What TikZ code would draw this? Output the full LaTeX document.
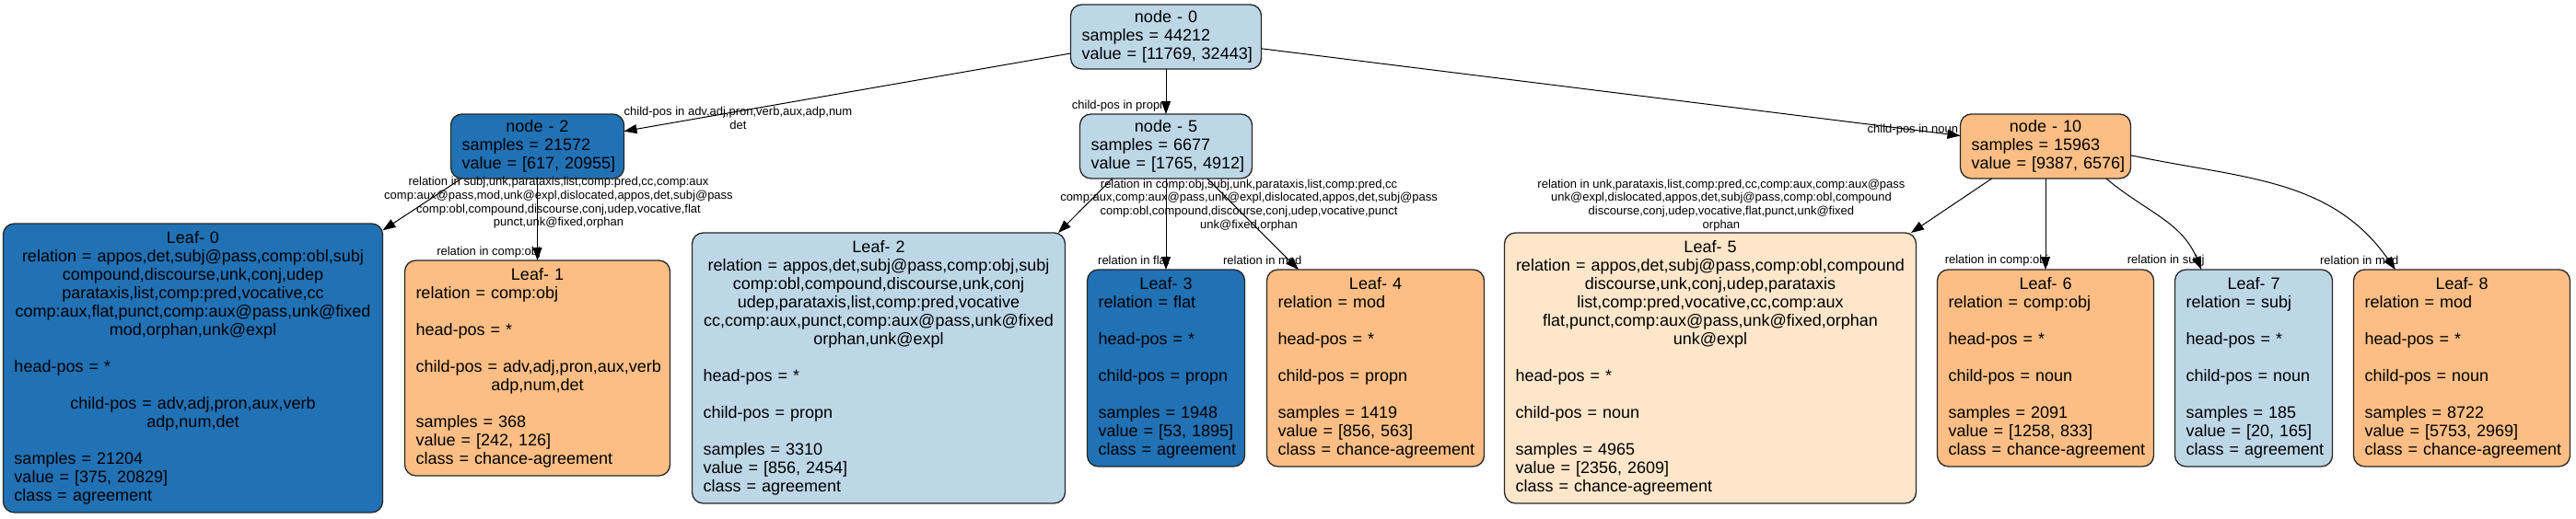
\documentclass[tikz,border=0pt]{standalone}
\usepackage{fontspec}
\setmainfont{Liberation Sans}
\usepackage{tikz}
\usetikzlibrary{arrows.meta,positioning}
\definecolor{agree}{HTML}{2171B5}
\definecolor{agreelight}{HTML}{BDD7E7}
\definecolor{chance}{HTML}{FDBE85}
\definecolor{chancelight}{HTML}{FEE6CA}
\tikzstyle{splitbox} = [rectangle, draw=black!85, line width=0.65pt, rounded corners=6pt, align=center, inner xsep=6pt, inner ysep=3pt, outer sep=0pt, minimum height=35pt, font=\fontsize{9}{10}\selectfont]
\tikzstyle{leafbox} = [rectangle, draw=black!85, line width=0.65pt, rounded corners=6pt, align=center, inner xsep=6pt, inner ysep=4.3pt, outer sep=0pt, font=\fontsize{9}{10}\selectfont]
\tikzstyle{line} = [draw, line width=0.5pt, -{Triangle[length=7pt,width=5pt]}]
\tikzstyle{cond} = [inner sep=0pt, align=center, font=\fontsize{6.5}{7.4}\selectfont]
\newcommand{\lft}[1]{\makebox[\linewidth][l]{#1}}

\begin{document}
\begin{tikzpicture}
    \useasboundingbox (0,0) rectangle (1398.5pt,-281.5pt);
    % split nodes
    \node [splitbox, fill=agreelight, text width=91.5pt] (node0) at (633pt,-20pt) {node - 0\\ \lft{samples = 44212}\\ \lft{value = [11769, 32443]}};
    \node [splitbox, fill=agreelight, text width=81.5pt, below=24.5pt of node0] (node5) {node - 5\\ \lft{samples = 6677}\\ \lft{value = [1765, 4912]}};
    \node [splitbox, fill=agree, text width=82pt, left=247.5pt of node5] (node2) {node - 2\\ \lft{samples = 21572}\\ \lft{value = [617, 20955]}};
    \node [splitbox, fill=chance, text width=80.5pt, right=384.5pt of node5] (node10) {node - 10\\ \lft{samples = 15963}\\ \lft{value = [9387, 6576]}};
    % leaves
    \node [leafbox, fill=agree, text width=73.5pt, below=49.5pt of node5] (leaf3) {Leaf- 3\\ \lft{relation = flat}\\[10pt] \lft{head-pos = *}\\[10pt] \lft{child-pos = propn}\\[10pt] \lft{samples = 1948}\\ \lft{value = [53, 1895]}\\ \lft{class = agreement}};
    \node [leafbox, fill=agreelight, text width=190.5pt, left=12pt of leaf3] (leaf2) {Leaf- 2\\ \mbox{relation = appos,det,subj@pass,comp:obj,subj}\\ comp:obl,compound,discourse,unk,conj\\ udep,parataxis,list,comp:pred,vocative\\ cc,comp:aux,punct,comp:aux@pass,unk@fixed\\ orphan,unk@expl\\[10pt] \lft{head-pos = *}\\[10pt] \lft{child-pos = propn}\\[10pt] \lft{samples = 3310}\\ \lft{value = [856, 2454]}\\ \lft{class = agreement}};
    \node [leafbox, fill=chance, text width=132pt, left=12pt of leaf2] (leaf1) {Leaf- 1\\ \lft{relation = comp:obj}\\[10pt] \lft{head-pos = *}\\[10pt] \lft{child-pos = adv,adj,pron,aux,verb}\\ adp,num,det\\[10pt] \lft{samples = 368}\\ \lft{value = [242, 126]}\\ \lft{class = chance-agreement}};
    \node [leafbox, fill=agree, text width=194pt, left=12pt of leaf1] (leaf0) {Leaf- 0\\ \mbox{relation = appos,det,subj@pass,comp:obl,subj}\\ compound,discourse,unk,conj,udep\\ parataxis,list,comp:pred,vocative,cc\\ comp:aux,flat,punct,comp:aux@pass,unk@fixed\\ mod,orphan,unk@expl\\[10pt] \lft{head-pos = *}\\[10pt] \mbox{child-pos = adv,adj,pron,aux,verb}\\ adp,num,det\\[10pt] \lft{samples = 21204}\\ \lft{value = [375, 20829]}\\ \lft{class = agreement}};
    \node [leafbox, fill=chance, text width=106pt, right=12pt of leaf3] (leaf4) {Leaf- 4\\ \lft{relation = mod}\\[10pt] \lft{head-pos = *}\\[10pt] \lft{child-pos = propn}\\[10pt] \lft{samples = 1419}\\ \lft{value = [856, 563]}\\ \lft{class = chance-agreement}};
    \node [leafbox, fill=chancelight, text width=211.5pt, right=11pt of leaf4] (leaf5) {Leaf- 5\\ \mbox{relation = appos,det,subj@pass,comp:obl,compound}\\ discourse,unk,conj,udep,parataxis\\ list,comp:pred,vocative,cc,comp:aux\\ flat,punct,comp:aux@pass,unk@fixed,orphan\\ unk@expl\\[10pt] \lft{head-pos = *}\\[10pt] \lft{child-pos = noun}\\[10pt] \lft{samples = 4965}\\ \lft{value = [2356, 2609]}\\ \lft{class = chance-agreement}};
    \node [leafbox, fill=chance, text width=105.5pt, right=11.5pt of leaf5] (leaf6) {Leaf- 6\\ \lft{relation = comp:obj}\\[10pt] \lft{head-pos = *}\\[10pt] \lft{child-pos = noun}\\[10pt] \lft{samples = 2091}\\ \lft{value = [1258, 833]}\\ \lft{class = chance-agreement}};
    \node [leafbox, fill=agreelight, text width=73.5pt, right=11.5pt of leaf6] (leaf7) {Leaf- 7\\ \lft{relation = subj}\\[10pt] \lft{head-pos = *}\\[10pt] \lft{child-pos = noun}\\[10pt] \lft{samples = 185}\\ \lft{value = [20, 165]}\\ \lft{class = agreement}};
    \node [leafbox, fill=chance, text width=105.5pt, right=11.5pt of leaf7] (leaf8) {Leaf- 8\\ \lft{relation = mod}\\[10pt] \lft{head-pos = *}\\[10pt] \lft{child-pos = noun}\\[10pt] \lft{samples = 8722}\\ \lft{value = [5753, 2969]}\\ \lft{class = chance-agreement}};
    % edges
    \path [line] (node0) -- (node2) node [cond, at end, xshift=62pt, yshift=7pt] {child-pos in adv,adj,pron,verb,aux,adp,num\\det};
    \path [line] (node0) -- (node5) node [cond, at end, anchor=east, xshift=0.5pt, yshift=4.5pt] {child-pos in propn};
    \path [line] (node0) -- (node10) node [cond, at end, anchor=east, xshift=-1pt, yshift=3pt] {child-pos in noun};
    \path [line] (node2.203) -- (leaf0.36) node [cond, at end, xshift=95.5pt, yshift=15pt] {relation in subj,unk,parataxis,list,comp:pred,cc,comp:aux\\comp:aux@pass,mod,unk@expl,dislocated,appos,det,subj@pass\\comp:obl,compound,discourse,conj,udep,vocative,flat\\punct,unk@fixed,orphan};
    \path [line] (node2) -- (leaf1) node [cond, at end, anchor=east, xshift=2pt, yshift=4.5pt] {relation in comp:obj};
    \path [line] (node5.211) -- (leaf2.37) node [cond, at end, xshift=103.5pt, yshift=15pt] {relation in comp:obj,subj,unk,parataxis,list,comp:pred,cc\\comp:aux,comp:aux@pass,unk@expl,dislocated,appos,det,subj@pass\\comp:obl,compound,discourse,conj,udep,vocative,punct\\unk@fixed,orphan};
    \path [line] (node5) -- (leaf3) node [cond, at end, anchor=east, xshift=2pt, yshift=5pt] {relation in flat};
    \path [line] (node5.-38) -- (leaf4.128) node [cond, at end, anchor=east, xshift=2pt, yshift=5pt] {relation in mod};
    \path [line] (node10.211) -- (leaf5.34) node [cond, at end, xshift=-103pt, yshift=15pt] {relation in unk,parataxis,list,comp:pred,cc,comp:aux,comp:aux@pass\\unk@expl,dislocated,appos,det,subj@pass,comp:obl,compound\\discourse,conj,udep,vocative,flat,punct,unk@fixed\\orphan};
    \path [line] (node10) -- (leaf6) node [cond, at end, anchor=east, xshift=2pt, yshift=5pt] {relation in comp:obj};
    \path [line] (node10.-28) to[out=-40, in=112] (leaf7.118) node [cond, anchor=east, xshift=2pt, yshift=5pt] {relation in subj};
    \path [line] (node10.-6) to[out=-12, in=125] (leaf8.124) node [cond, anchor=east, xshift=2pt, yshift=5pt] {relation in mod};
\end{tikzpicture}
\end{document}
